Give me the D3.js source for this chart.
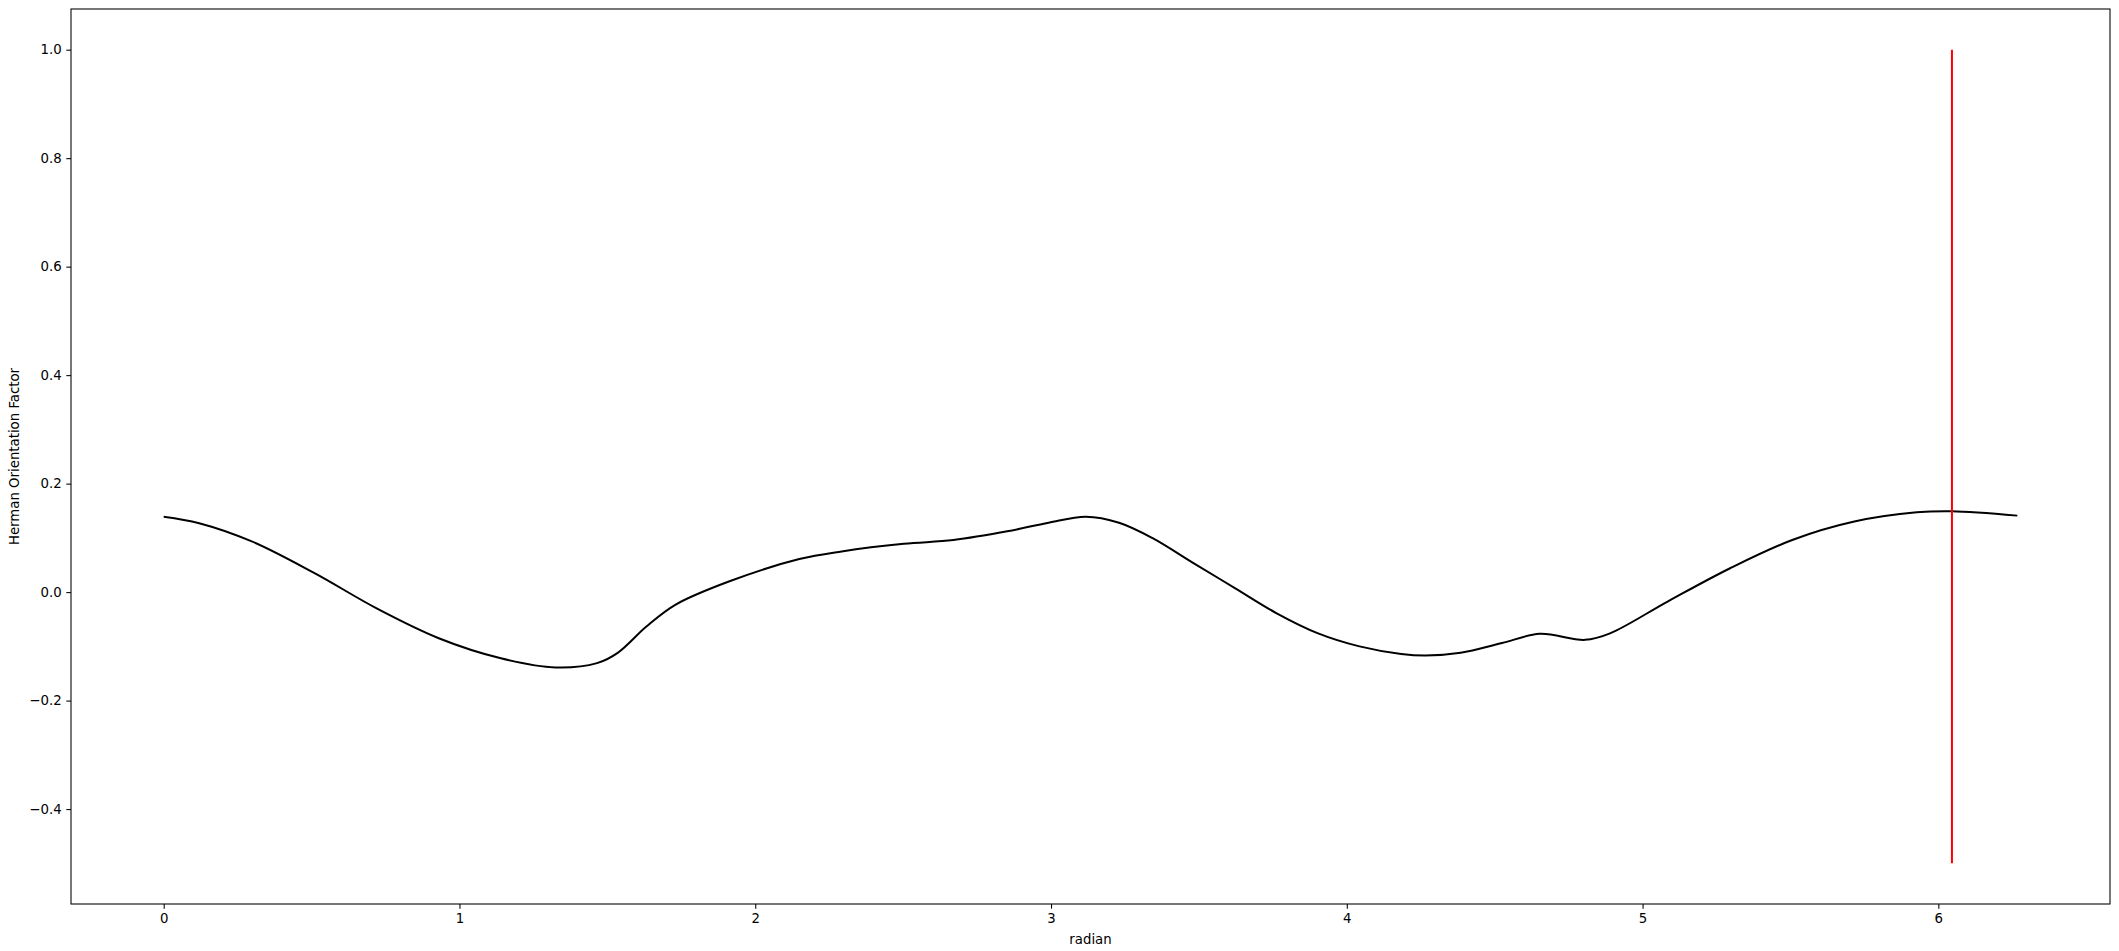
<!DOCTYPE html>
<html lang="en">
<head>
    <meta charset="UTF-8">
    <title>Herman Orientation Factor</title>
    <script src="https://d3js.org/d3.v7.min.js"></script>
    <style>
        body {
            margin: 0;
            background: #fff;
        }
        svg text {
            font-family: 'DejaVu Sans', sans-serif;
            fill: #000;
        }
        .tick text {
            font-size: 13.3px;
        }
        .axis-label {
            font-size: 13.3px;
        }
    </style>
</head>
<body>
    <div id="chart"></div>

    <script>
        // Curve (radian -> factor)
        const radians = [0, 0.12, 0.30, 0.51, 0.72, 0.93, 1.14, 1.325, 1.465, 1.535, 1.633, 1.731, 1.913, 2.149,
            2.292, 2.502, 2.67, 2.852, 2.992, 3.118, 3.23, 3.342, 3.483, 3.623, 3.763, 3.903, 4.043, 4.184,
            4.265, 4.385, 4.525, 4.652, 4.806, 4.89, 5.086, 5.296, 5.506, 5.716, 5.927, 6.046, 6.267];
        const factors = [0.139, 0.127, 0.093, 0.035, -0.030, -0.085, -0.122, -0.139, -0.131, -0.112, -0.063, -0.023, 0.020, 0.061,
            0.075, 0.089, 0.096, 0.112, 0.128, 0.139, 0.128, 0.100, 0.053, 0.007, -0.039, -0.076, -0.100, -0.114,
            -0.117, -0.112, -0.094, -0.077, -0.088, -0.076, -0.017, 0.044, 0.096, 0.130, 0.147, 0.149, 0.141];

        // Red marker line
        const markerX = [6.046, 6.046];
        const markerY = [-0.5, 1.0];

        const xTicks = [0, 1, 2, 3, 4, 5, 6];
        const yTicks = [-0.4, -0.2, 0.0, 0.2, 0.4, 0.6, 0.8, 1.0];

        const W = 2119, H = 951;
        const margin = { top: 9, right: 9, bottom: 47, left: 71 };

        const curve = radians.map((r, i) => ({ x: r, y: factors[i] }));
        const marker = markerX.map((r, i) => ({ x: r, y: markerY[i] }));

        const svg = d3.select('#chart').append('svg')
            .attr('width', W)
            .attr('height', H);

        // matplotlib style 5% margins
        const pad = (lo, hi) => { const d = (hi - lo) * 0.05; return [lo - d, hi + d]; };
        const allX = radians.concat(markerX);
        const allY = factors.concat(markerY);

        const x = d3.scaleLinear()
            .domain(pad(d3.min(allX), d3.max(allX)))
            .range([margin.left, W - margin.right]);
        const y = d3.scaleLinear()
            .domain(pad(d3.min(allY), d3.max(allY)))
            .range([H - margin.bottom, margin.top]);

        const line = d3.line()
            .x(d => x(d.x))
            .y(d => y(d.y))
            .curve(d3.curveCatmullRom.alpha(0.5));

        svg.append('path')
            .datum(curve)
            .attr('d', line)
            .attr('fill', 'none')
            .attr('stroke', '#000')
            .attr('stroke-width', 2);

        svg.append('path')
            .datum(marker)
            .attr('d', d3.line().x(d => x(d.x)).y(d => y(d.y)))
            .attr('fill', 'none')
            .attr('stroke', '#ff0000')
            .attr('stroke-width', 2);

        // axes
        const xAxis = svg.append('g')
            .attr('transform', `translate(0,${H - margin.bottom})`)
            .call(d3.axisBottom(x).tickValues(xTicks).tickFormat(d3.format('d'))
                .tickSize(4.7).tickPadding(4.7));
        const yAxis = svg.append('g')
            .attr('transform', `translate(${margin.left},0)`)
            .call(d3.axisLeft(y).tickValues(yTicks).tickFormat(d3.format('.1f'))
                .tickSize(4.7).tickPadding(4.7));

        [xAxis, yAxis].forEach(g => {
            g.select('.domain').remove();
            g.selectAll('.tick line').attr('stroke', '#000').attr('stroke-width', 1.07);
            g.selectAll('.tick text').attr('font-family', null).attr('font-size', null);
        });

        // frame
        svg.append('rect')
            .attr('x', margin.left)
            .attr('y', margin.top)
            .attr('width', W - margin.left - margin.right)
            .attr('height', H - margin.top - margin.bottom)
            .attr('fill', 'none')
            .attr('stroke', '#000')
            .attr('stroke-width', 1.07);

        svg.append('text')
            .attr('class', 'axis-label')
            .attr('x', (margin.left + W - margin.right) / 2)
            .attr('y', 944)
            .attr('text-anchor', 'middle')
            .text('radian');

        svg.append('text')
            .attr('class', 'axis-label')
            .attr('transform', `translate(18.5,${(margin.top + H - margin.bottom) / 2}) rotate(-90)`)
            .attr('text-anchor', 'middle')
            .text('Herman Orientation Factor');
    </script>
</body>
</html>
